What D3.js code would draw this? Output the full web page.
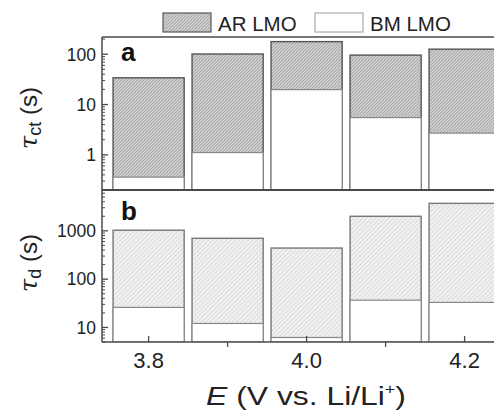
<!DOCTYPE html>
<html>
<head>
<meta charset="utf-8">
<script src="https://cdn.jsdelivr.net/npm/d3@7"></script>
<style>
  html, body { margin: 0; padding: 0; background: #fff; }
  svg { display: block; font-family: "Liberation Sans", Arial, Helvetica, sans-serif; }
</style>
</head>
<body>
<svg id="chart" width="494" height="411"></svg>
<script>
// Time constants vs. electrode potential
const potentials = [3.8, 3.9, 4.0, 4.1, 4.2];
const tauCtAR = [34, 101, 178, 96, 126];
const tauCtBM = [0.36, 1.11, 19.8, 5.5, 2.7];
const tauDAR = [1030, 700, 440, 2000, 3700];
const tauDBM = [26, 12.1, 6.2, 36.7, 33];

const xTickLabels = [3.8, 4.0, 4.2];
const xMinorTicks = [3.9, 4.1];
const yTicksA = [1, 10, 100];
const yTicksB = [10, 100, 1000];
const legendLabels = ["AR LMO", "BM LMO"];

const svg = d3.select("#chart");
const axisColor = "#4a4a4a";

const left = 102, topA = 37, mid = 190, bottom = 342;
const x = d3.scaleLinear().domain([3.741, 4.26]).range([left, left + 0.519 * 790]);
const yA = d3.scaleLog().domain([0.2, 220]).range([mid, topA]);
const yB = d3.scaleLog().domain([5, 7000]).range([bottom, mid]);
const barW = x(0.09) - x(0);

// hatch patterns
const defs = svg.append("defs");
function hatch(id, size, bg, stroke, sw) {
  const p = defs.append("pattern").attr("id", id)
    .attr("patternUnits", "userSpaceOnUse")
    .attr("width", size).attr("height", size);
  p.append("rect").attr("width", size).attr("height", size).attr("fill", bg);
  p.append("path")
    .attr("d", `M-1,1 l2,-2 M0,${size} l${size},${-size} M${size - 1},${size + 1} l2,-2`)
    .attr("stroke", stroke).attr("stroke-width", sw);
}
hatch("hatchDark", 3.2, "#dadada", "#989898", 0.9);
hatch("hatchLight", 4.4, "#f1f1f1", "#c8c8c8", 0.8);

svg.append("clipPath").attr("id", "plotClip")
  .append("rect").attr("x", left).attr("y", topA).attr("width", 500).attr("height", bottom - topA);

const plot = svg.append("g").attr("clip-path", "url(#plotClip)");

function panel(scale, ar, bm, fill, arStroke, bmStroke) {
  const base = scale(scale.domain()[0]);
  const g = plot.append("g");
  g.selectAll("rect.ar").data(potentials).join("rect")
    .attr("class", "ar")
    .attr("x", (d) => x(d) - barW / 2)
    .attr("width", barW)
    .attr("y", (d, i) => scale(ar[i]))
    .attr("height", (d, i) => base - scale(ar[i]))
    .attr("fill", fill).attr("stroke", arStroke).attr("stroke-width", 1.4);
  g.selectAll("rect.bm").data(potentials).join("rect")
    .attr("class", "bm")
    .attr("x", (d) => x(d) - barW / 2)
    .attr("width", barW)
    .attr("y", (d, i) => scale(bm[i]))
    .attr("height", (d, i) => base - scale(bm[i]))
    .attr("fill", "#fff").attr("stroke", bmStroke).attr("stroke-width", 1.2);
}
panel(yA, tauCtAR, tauCtBM, "url(#hatchDark)", "#555", "#888");
panel(yB, tauDAR, tauDBM, "url(#hatchLight)", "#777", "#888");

// y axes with inward ticks
function yAxis(scale, ticks) {
  const g = svg.append("g").attr("transform", `translate(${left},0)`);
  const [lo, hi] = scale.domain();
  const minor = [];
  for (let e = Math.floor(Math.log10(lo)); e <= Math.ceil(Math.log10(hi)); e++) {
    for (let m = 2; m < 10; m++) {
      const v = m * Math.pow(10, e);
      if (v >= lo && v <= hi) minor.push(v);
    }
  }
  g.selectAll("line.minor").data(minor).join("line")
    .attr("x1", 0).attr("x2", 3)
    .attr("y1", (d) => scale(d)).attr("y2", (d) => scale(d))
    .attr("stroke", axisColor).attr("stroke-width", 1);
  g.selectAll("line.major").data(ticks).join("line")
    .attr("x1", 0).attr("x2", 6)
    .attr("y1", (d) => scale(d)).attr("y2", (d) => scale(d))
    .attr("stroke", axisColor).attr("stroke-width", 1.3);
  g.selectAll("text").data(ticks).join("text")
    .attr("x", -6).attr("y", (d) => scale(d)).attr("dy", "0.36em")
    .attr("text-anchor", "end").attr("font-size", 17.5).attr("fill", "#222")
    .text((d) => d);
}
yAxis(yA, yTicksA);
yAxis(yB, yTicksB);

// x axis
const gx = svg.append("g");
gx.selectAll("line.major").data(xTickLabels).join("line")
  .attr("x1", (d) => x(d)).attr("x2", (d) => x(d))
  .attr("y1", bottom).attr("y2", bottom - 6)
  .attr("stroke", axisColor).attr("stroke-width", 1.3);
gx.selectAll("line.minor").data(xMinorTicks).join("line")
  .attr("x1", (d) => x(d)).attr("x2", (d) => x(d))
  .attr("y1", bottom).attr("y2", bottom + 5)
  .attr("stroke", axisColor).attr("stroke-width", 1.3);
gx.selectAll("text").data(xTickLabels).join("text")
  .attr("x", (d) => x(d)).attr("y", 368)
  .attr("text-anchor", "middle").attr("font-size", 22).attr("fill", "#222")
  .text((d) => d.toFixed(1));

// frame lines
svg.append("line").attr("x1", left).attr("x2", 494).attr("y1", topA).attr("y2", topA)
  .attr("stroke", axisColor).attr("stroke-width", 1.5);
svg.append("line").attr("x1", left).attr("x2", 494).attr("y1", mid).attr("y2", mid)
  .attr("stroke", axisColor).attr("stroke-width", 2);
svg.append("line").attr("x1", left).attr("x2", 494).attr("y1", bottom).attr("y2", bottom)
  .attr("stroke", axisColor).attr("stroke-width", 1.6);
svg.append("line").attr("x1", left).attr("x2", left).attr("y1", topA).attr("y2", bottom)
  .attr("stroke", axisColor).attr("stroke-width", 1.5);

// panel letters
svg.append("text").attr("x", 121).attr("y", 61).attr("font-size", 26)
  .attr("font-weight", "bold").attr("fill", "#111").text("a");
svg.append("text").attr("x", 121).attr("y", 220).attr("font-size", 26)
  .attr("font-weight", "bold").attr("fill", "#111").text("b");

// x axis title, stretched to span the wide title box
const xtG = svg.append("g");
const xt = xtG.append("text").attr("x", 0).attr("y", 0)
  .attr("text-anchor", "middle").attr("font-size", 25).attr("fill", "#222");
xt.append("tspan").attr("font-style", "italic").text("E");
xt.append("tspan").text(" (V vs. Li/Li");
xt.append("tspan").attr("font-size", 14).attr("dy", -11).text("+");
xt.append("tspan").attr("dy", 11).text(")");
const xtW = xt.node().getBBox().width;
xtG.attr("transform", `translate(306,405) scale(${200 / xtW},1)`);

function yTitle(cx, cy, sub) {
  const t = svg.append("text")
    .attr("transform", `translate(${cx},${cy}) rotate(-90)`)
    .attr("text-anchor", "middle").attr("font-size", 24).attr("fill", "#222");
  t.append("tspan").attr("font-style", "italic").attr("font-family", "DejaVu Serif, serif").text("τ");
  t.append("tspan").attr("font-size", 18).attr("dy", 4).text(sub);
  t.append("tspan").attr("dy", -4).text(" (s)");
}
yTitle(37, 118, "ct");
yTitle(37, 263, "d");

// legend
const legend = svg.append("g");
const legendFills = ["url(#hatchDark)", "#fff"];
const legendStrokes = ["#555", "#aaa"];
const legendX = [163, 315];
legendLabels.forEach((lab, i) => {
  legend.append("rect").attr("x", legendX[i]).attr("y", 13).attr("width", 48).attr("height", 19)
    .attr("fill", legendFills[i]).attr("stroke", legendStrokes[i]).attr("stroke-width", 1.2);
  legend.append("text").attr("x", legendX[i] + 55).attr("y", 30.5)
    .attr("font-size", 20.5).attr("fill", "#222").text(lab);
});
</script>
</body>
</html>
